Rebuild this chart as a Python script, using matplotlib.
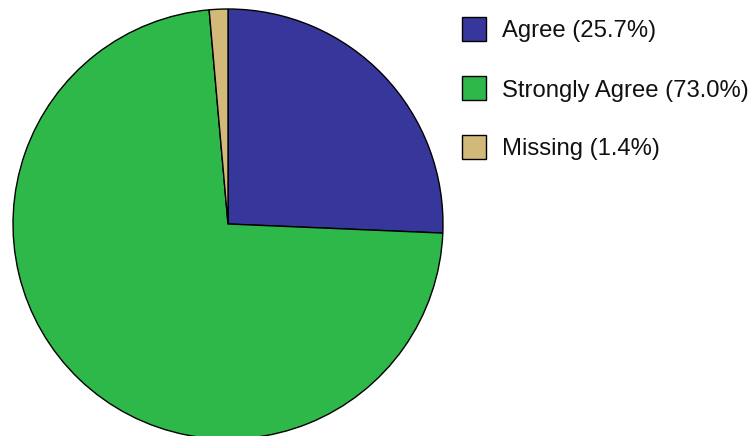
import matplotlib.pyplot as plt
from matplotlib.patches import Rectangle

plt.rcParams['font.family'] = ['Liberation Sans', 'DejaVu Sans']

labels = ['Agree', 'Strongly Agree', 'Missing']
shares = [25.7, 73.0, 1.4]
colors = ['#37379b', '#2fb84a', '#d2b879']

W, H = 753, 436
fig = plt.figure(figsize=(W / 100, H / 100), dpi=100, facecolor='white')

# pie axes: square box in pixels, centre ~ (228, 224), radius ~215
cx, cy, r = 228, 224, 215
ax = fig.add_axes([(cx - r) / W, (H - cy - r) / H, 2 * r / W, 2 * r / H])
ax.pie(shares, colors=colors, startangle=90, counterclock=False,
       wedgeprops=dict(edgecolor='black', linewidth=1.0))
ax.set_xlim(-1.0, 1.0)
ax.set_ylim(-1.0, 1.0)
ax.set_aspect('equal')
ax.axis('off')

# legend drawn by hand
box_x, box_y0, box_size, step = 462, 17, 24, 59
for i, (lab, val, col) in enumerate(zip(labels, shares, colors)):
    y = box_y0 + i * step
    fig.patches.append(Rectangle((box_x / W, (H - y - box_size) / H),
                                 box_size / W, box_size / H,
                                 facecolor=col, edgecolor='black', linewidth=1.0,
                                 transform=fig.transFigure, figure=fig))
    fig.text(502 / W, (H - y - 20.5) / H, f'{lab} ({val:.1f}%)',
             fontsize=17.2, va='baseline', ha='left', color='#111111')

fig.savefig('out.png', dpi=100, facecolor='white')
